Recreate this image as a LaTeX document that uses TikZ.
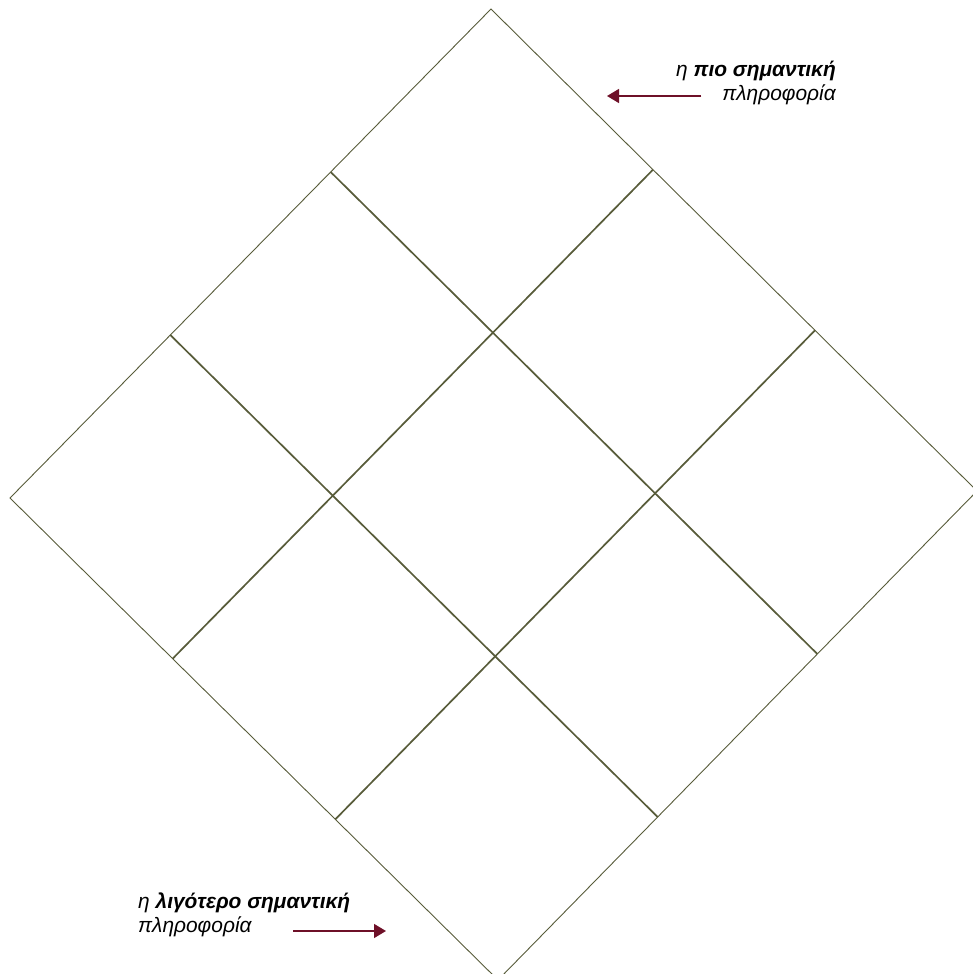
\documentclass[tikz,border=0pt]{standalone}
\usepackage{fontspec}
\setmainfont{Liberation Sans}
\usetikzlibrary{arrows.meta, positioning, calc}
\definecolor{gridline}{RGB}{88,92,58}
\definecolor{arrowred}{RGB}{110,16,40}

\begin{document}
\begin{tikzpicture}[
    x=1bp, y=-1bp,
    outer/.style={draw=gridline, line width=0.9bp},
    inner/.style={draw=gridline, line width=1.7bp},
    info/.style={font=\fontsize{21}{24}\selectfont\itshape, inner sep=0pt},
    arrow/.style={-{Triangle[length=12bp,width=14bp]}, line width=1.4bp, draw=arrowred, fill=arrowred}
]
\useasboundingbox (0,0) rectangle (973,974);
\clip (0,0) rectangle (973,974);

% corners of the big diamond
\coordinate (top) at (491,9);
\coordinate (right) at (977,491);
\coordinate (bottom) at (498,980);
\coordinate (left) at (10,498);

% inner grid
\foreach \i in {1,2} {
  \draw[inner] ($(top)!\i/3!(left)$) -- ($(right)!\i/3!(bottom)$);
  \draw[inner] ($(top)!\i/3!(right)$) -- ($(left)!\i/3!(bottom)$);
}
\draw[outer] (top) -- (right) -- (bottom) -- (left) -- cycle;

% labels
\node[info, anchor=north east, align=right] (mostinfo) at (836,61) {η \textbf{πιο σημαντική}\\πληροφορία};
\node[info, anchor=north west, align=left] (leastinfo) at (138,893) {η \textbf{λιγότερο σημαντική}\\πληροφορία};

\coordinate (mosttail) at (701,96);
\coordinate (mosttip) at (607,96);
\coordinate (leasttail) at (293,931);
\coordinate (leasttip) at (386,931);

\draw[arrow] (mosttail) -- (mosttip);
\draw[arrow] (leasttail) -- (leasttip);

\end{tikzpicture}
\end{document}
